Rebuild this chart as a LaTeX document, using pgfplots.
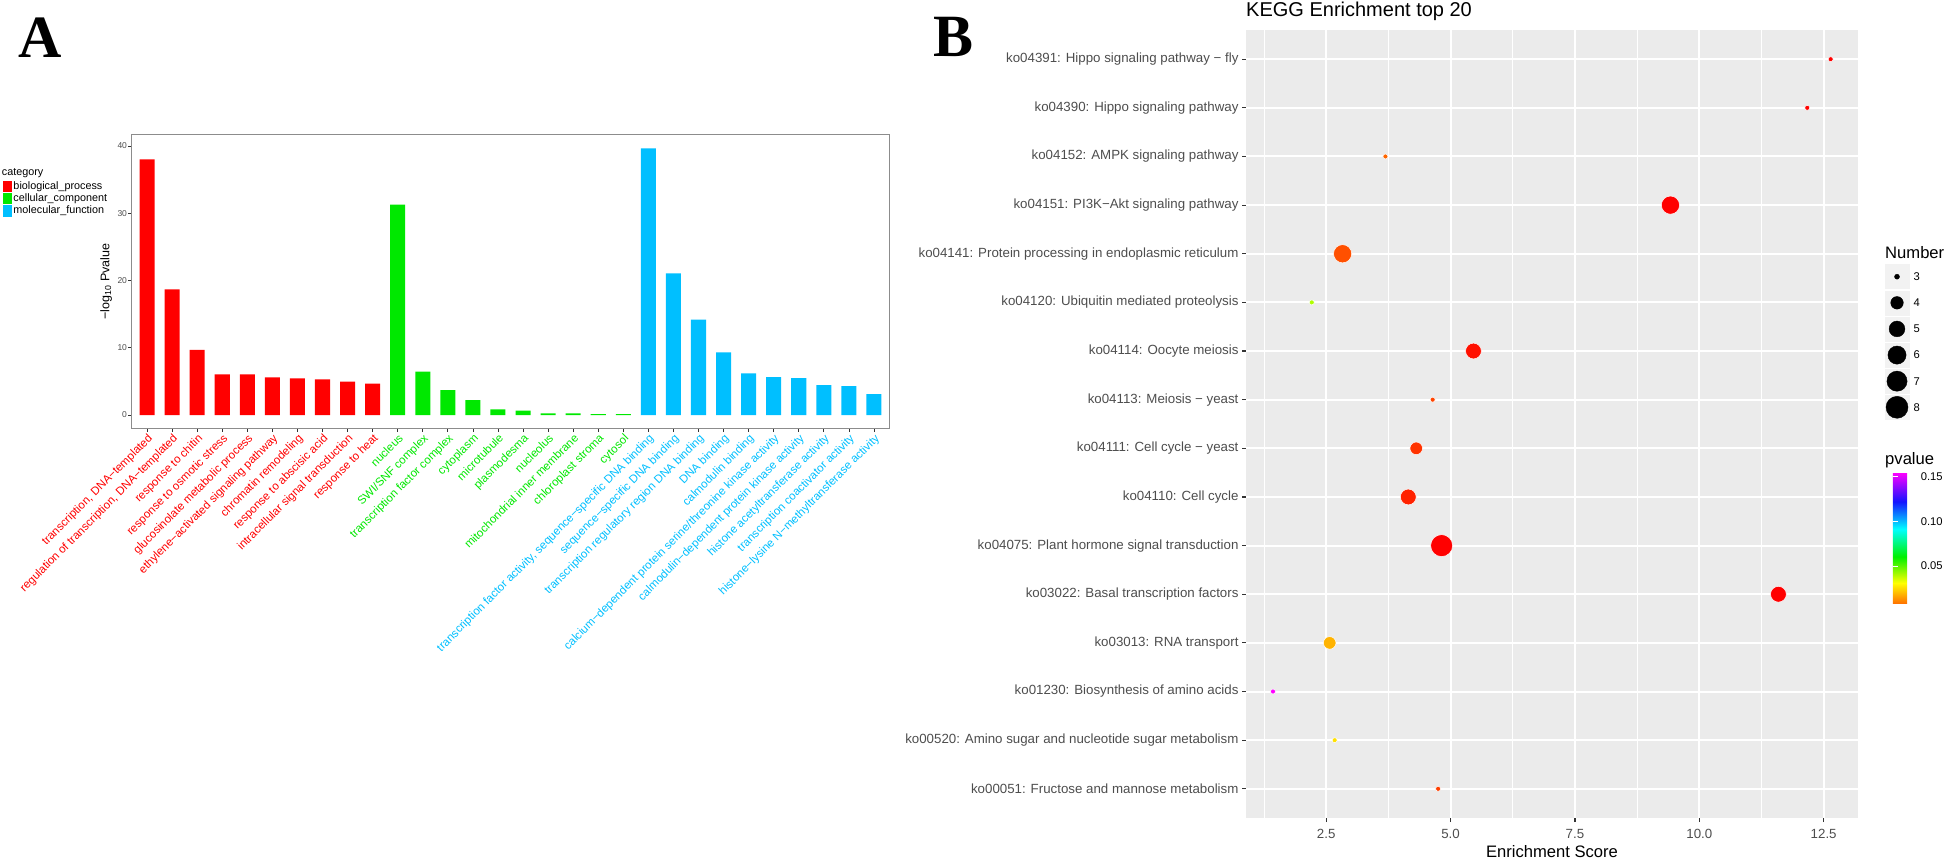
\documentclass[border=0pt]{standalone}
\usepackage{fontspec}
\setmainfont{Liberation Sans}
\newfontfamily\serifb{Liberation Serif}
\usepackage{pgfplots}
\pgfplotsset{compat=1.18}
\usepackage{pgfplotstable}

\definecolor{bpred}{RGB}{255,0,0}
\definecolor{ccgreen}{RGB}{0,232,0}
\definecolor{mfblue}{RGB}{0,191,255}
\definecolor{panelbg}{RGB}{235,235,235}
\definecolor{grey30}{RGB}{77,77,77}
\definecolor{grey20}{RGB}{51,51,51}
\definecolor{keybg}{RGB}{242,242,242}
\definecolor{boxgray}{RGB}{140,140,140}

\pgfplotsset{
  /pgf/number format/assume math mode=true,
  colormap={ptsmap}{rgb255(0)=(255,0,0) rgb255(1)=(255,255,0) rgb255(2)=(0,255,0) rgb255(3)=(0,255,255) rgb255(4)=(0,0,255) rgb255(5)=(255,0,255)},
  colormap={barmap}{rgb255(0)=(255,110,0) rgb255(16)=(255,255,0) rgb255(36)=(0,240,0) rgb255(57)=(0,255,255) rgb255(78)=(20,20,255) rgb255(100)=(255,0,255)},
  legsq/.style={legend image code/.code={\fill[##1] (0pt,-5.8pt) rectangle (9.6pt,5.8pt);}},
}

% Panel A data: index, -log10 Pvalue
\pgfplotstableread{
x y
0 38.0
1 18.7
2 9.7
3 6.05
4 6.05
5 5.6
6 5.45
7 5.3
8 4.96
9 4.66
}\bpdata
\pgfplotstableread{
x y
10 31.3
11 6.44
12 3.72
13 2.23
14 0.84
15 0.64
16 0.25
17 0.25
18 0.15
19 0.15
}\ccdata
\pgfplotstableread{
x y
20 39.65
21 21.07
22 14.2
23 9.3
24 6.2
25 5.65
26 5.5
27 4.46
28 4.31
29 3.12
}\mfdata

% Panel B data: enrichment score, row, Number, marker radius (px), pvalue
\pgfplotstableread{
x y n r p
4.75 1 3 2.5 0.0149
2.67 2 3 2.5 0.0334
1.43 3 3 2.5 0.1545
2.57 4 4 6.3 0.0281
11.59 5 5 7.9 0.0075
4.82 6 8 11.0 0.0075
4.15 7 5 7.9 0.0114
4.31 8 4 6.3 0.0134
4.64 9 3 2.5 0.0153
5.46 10 5 7.9 0.0093
2.21 11 3 2.5 0.0460
2.83 12 6 9.1 0.0167
9.42 13 6 9.1 0.0075
3.69 14 3 2.5 0.0193
12.17 15 3 2.5 0.0078
12.64 16 3 2.5 0.0075
}\keggdata

\pgfplotstableread{
k n r
0 3 2.5
0 4 6.3
0 5 7.9
0 6 9.1
0 7 10.1
0 8 11.0
}\sizedata

\begin{document}
\begin{tikzpicture}
\useasboundingbox (0,0) rectangle (1946pt,860pt);

% ---------------- Panel A ----------------
\node[anchor=base west, inner sep=0pt, font=\serifb\bfseries\fontsize{60}{60}\selectfont] at (18pt,802.7pt) {A};

\begin{axis}[
  at={(132pt,432pt)}, anchor=south west, scale only axis,
  width=757pt, height=293pt,
  xmin=-0.6, xmax=29.6, ymin=-1.93, ymax=41.64,
  ybar, bar width=0.6,
  axis line style={draw=boxgray, line width=1pt},
  tick align=outside, tick pos=left,
  major tick length=3.5pt, tick style={grey20, line width=0.7pt},
  xtick={0,...,29},
  xticklabels={
    \textcolor{bpred}{transcription, DNA−templated},
    \textcolor{bpred}{regulation of transcription, DNA−templated},
    \textcolor{bpred}{response to chitin},
    \textcolor{bpred}{response to osmotic stress},
    \textcolor{bpred}{glucosinolate metabolic process},
    \textcolor{bpred}{ethylene−activated signaling pathway},
    \textcolor{bpred}{chromatin remodeling},
    \textcolor{bpred}{response to abscisic acid},
    \textcolor{bpred}{intracellular signal transduction},
    \textcolor{bpred}{response to heat},
    \textcolor{ccgreen}{nucleus},
    \textcolor{ccgreen}{SWI/SNF complex},
    \textcolor{ccgreen}{transcription factor complex},
    \textcolor{ccgreen}{cytoplasm},
    \textcolor{ccgreen}{microtubule},
    \textcolor{ccgreen}{plasmodesma},
    \textcolor{ccgreen}{nucleolus},
    \textcolor{ccgreen}{mitochondrial inner membrane},
    \textcolor{ccgreen}{chloroplast stroma},
    \textcolor{ccgreen}{cytosol},
    \textcolor{mfblue}{transcription factor activity, sequence−specific DNA binding},
    \textcolor{mfblue}{sequence−specific DNA binding},
    \textcolor{mfblue}{transcription regulatory region DNA binding},
    \textcolor{mfblue}{DNA binding},
    \textcolor{mfblue}{calmodulin binding},
    \textcolor{mfblue}{calcium−dependent protein serine/threonine kinase activity},
    \textcolor{mfblue}{calmodulin−dependent protein kinase activity},
    \textcolor{mfblue}{histone acetyltransferase activity},
    \textcolor{mfblue}{transcription coactivator activity},
    \textcolor{mfblue}{histone−lysine N−methyltransferase activity}},
  xticklabel style={rotate=45, anchor=north east, inner sep=1pt, font=\fontsize{11.5}{13}\selectfont},
  ytick={0,10,20,30,40},
  yticklabel style={font=\fontsize{8.5}{10}\selectfont, text=grey30, xshift=2pt},
  ylabel={−log\textsubscript{10} Pvalue},
  ylabel style={at={(axis description cs:-0.0343,0.4993)}, anchor=center, font=\fontsize{12.5}{15}\selectfont},
  legend style={at={(axis description cs:-0.1708,0.8464)}, anchor=north west, draw=none, fill=none,
    inner sep=0pt, font=\fontsize{10.8}{12}\selectfont, row sep=0pt,
    nodes={inner sep=1pt, text height=8pt, text depth=2.3pt}},
  legend cell align=left,
]
\addplot[fill=bpred, draw=none, bar shift=0pt, legsq] table[x=x,y=y]{\bpdata};
\addlegendentry{biological\_process}
\addplot[fill=ccgreen, draw=none, bar shift=0pt, legsq] table[x=x,y=y]{\ccdata};
\addlegendentry{cellular\_component}
\addplot[fill=mfblue, draw=none, bar shift=0pt, legsq] table[x=x,y=y]{\mfdata};
\addlegendentry{molecular\_function}
\end{axis}
\node[anchor=base west, inner sep=0pt, font=\fontsize{10.8}{12}\selectfont] at (1.7pt,684pt) {category};

% ---------------- Panel B ----------------
\node[anchor=base west, inner sep=0pt, font=\serifb\bfseries\fontsize{60}{60}\selectfont] at (933pt,803pt) {B};
\node[anchor=base west, inner sep=0pt, font=\fontsize{20}{24}\selectfont] at (1246pt,843.3pt) {KEGG Enrichment top 20};

\begin{axis}[
  at={(1246pt,42pt)}, anchor=south west, scale only axis,
  width=612pt, height=788pt,
  xmin=0.888, xmax=13.19, ymin=0.4, ymax=16.6,
  axis background/.style={fill=panelbg},
  axis line style={draw=none},
  xtick={2.5,5,7.5,10,12.5}, xticklabels={2.5,5.0,7.5,10.0,12.5},
  minor xtick={1.25,3.75,6.25,8.75,11.25},
  ytick={1,...,16},
  yticklabels={
    ko00051: Fructose and mannose metabolism,
    ko00520: Amino sugar and nucleotide sugar metabolism,
    ko01230: Biosynthesis of amino acids,
    ko03013: RNA transport,
    ko03022: Basal transcription factors,
    ko04075: Plant hormone signal transduction,
    ko04110: Cell cycle,
    ko04111: Cell cycle − yeast,
    ko04113: Meiosis − yeast,
    ko04114: Oocyte meiosis,
    ko04120: Ubiquitin mediated proteolysis,
    ko04141: Protein processing in endoplasmic reticulum,
    ko04151: PI3K−Akt signaling pathway,
    ko04152: AMPK signaling pathway,
    ko04390: Hippo signaling pathway,
    ko04391: Hippo signaling pathway − fly},
  xmajorgrids, ymajorgrids, xminorgrids,
  major grid style={white, line width=2pt},
  minor grid style={white, line width=1pt},
  tick align=outside, tick pos=left,
  major tick length=4pt, minor tick length=0pt,
  tick style={grey20, line width=1.2pt},
  ticklabel style={font=\fontsize{13.3}{16}\selectfont, text=grey30},
  xticklabel style={yshift=-4pt},
  xlabel={Enrichment Score},
  xlabel style={at={(axis description cs:0.5,0)}, anchor=base, yshift=-39pt, font=\fontsize{16.6}{20}\selectfont},
  colormap name=ptsmap, point meta min=0.0075, point meta max=0.1545,
]
\addplot[scatter, only marks, mark=*, point meta=\thisrow{p},
  scatter/use mapped color={draw=white, fill=mapped color},
  visualization depends on={\thisrow{r} \as \perpointmarksize},
  scatter/@pre marker code/.append style={/tikz/mark size=\perpointmarksize pt},
  mark options={line width=0.5pt}] table[x=x,y=y]{\keggdata};
\end{axis}

% Number legend
\node[anchor=base west, inner sep=0pt, font=\fontsize{16.6}{20}\selectfont] at (1885pt,601.7pt) {Number};
\begin{axis}[
  at={(1885pt,583.3pt)}, anchor=north west, scale only axis,
  width=24pt, height=130.6pt,
  xmin=-1, xmax=1, ymin=3, ymax=8, y dir=reverse, clip=false,
  axis line style={draw=none}, xtick=\empty,
  ytick={3,...,8}, yticklabel pos=right,
  major tick length=0pt, tick style={draw=none},
  yticklabel style={anchor=west, xshift=1pt, font=\fontsize{11.2}{14}\selectfont},
]
\addplot[only marks, mark=square*, mark size=12pt, color=keybg] table[x=k,y=n]{\sizedata};
\addplot[scatter, only marks, mark=*, point meta=\thisrow{n},
  scatter/use mapped color={draw=none, fill=black},
  visualization depends on={\thisrow{r} \as \perpointmarksize},
  scatter/@pre marker code/.append style={/tikz/mark size=\perpointmarksize pt}] table[x=k,y=n]{\sizedata};
\end{axis}

% pvalue colourbar
\node[anchor=base west, inner sep=0pt, font=\fontsize{16.6}{20}\selectfont] at (1885pt,395pt) {pvalue};
\begin{axis}[
  at={(1884.3pt,387.3pt)}, anchor=north west, scale only axis,
  width=26.4pt, height=131.3pt, hide axis,
  xmin=0, xmax=1, ymin=0, ymax=1,
  colormap name=barmap, colorbar,
  point meta min=0.0075, point meta max=0.1545,
  colorbar style={at={(parent axis.north west)}, anchor=north west,
    scale only axis, width=26.4pt, height=131.3pt,
    ytick={0.05,0.1,0.15}, yticklabels={0.05,0.10,0.15},
    ytick pos=both, yticklabel pos=right,
    tick align=inside, major tick length=5pt,
    tick style={white, line width=0.8pt},
    axis line style={draw=none},
    yticklabel style={font=\fontsize{11.2}{14}\selectfont, xshift=-2pt}},
]
\addplot[draw=none] coordinates {(0,0)};
\end{axis}
\end{tikzpicture}
\end{document}
